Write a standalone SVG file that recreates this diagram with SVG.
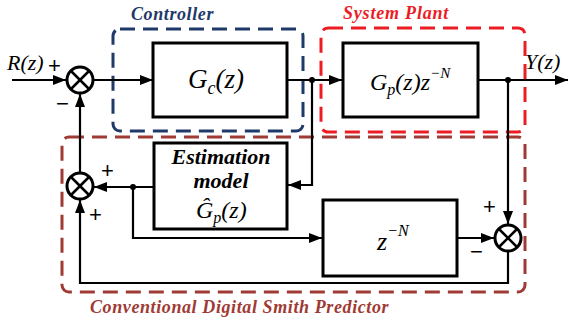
<svg xmlns="http://www.w3.org/2000/svg" width="569" height="320" viewBox="0 0 569 320">
<style>
.blk{fill:#fff;stroke:#000;stroke-width:3}
.sum{fill:#fff;stroke:#000;stroke-width:3}
.x{stroke:#000;stroke-width:2.5}
.ln{fill:none;stroke:#000;stroke-width:2.2}
.dash{fill:none;stroke-width:3;stroke-dasharray:15 8}
.sg{font-family:'Liberation Sans',Arial,sans-serif;font-size:22px}
.m{font-family:'Liberation Serif','DejaVu Serif',serif;font-style:italic}
.b{font-family:'Liberation Serif','DejaVu Serif',serif;font-style:italic;font-weight:bold}
</style>
<defs>
<marker id="ar" markerUnits="userSpaceOnUse" markerWidth="14" markerHeight="12" refX="13" refY="5" orient="auto">
<path d="M0,0 L13,5 L0,10 Z" fill="#000"/>
</marker>
</defs>
<rect x="0" y="0" width="569" height="320" fill="#fff"/>
<g id="groups">
<rect class="dash" x="113" y="29" width="190" height="102" rx="7" stroke="#1f3a68"/>
<rect class="dash" x="321" y="28" width="204" height="104" rx="7" stroke="#ec1c24"/>
<rect class="dash" x="62" y="137" width="463" height="155" rx="7" stroke="#a03a34"/>
<text class="b" x="131" y="20" font-size="18" fill="#1f3a68" letter-spacing="0.6">Controller</text>
<text class="b" x="343" y="19" font-size="18" fill="#ec1c24" letter-spacing="0.8">System Plant</text>
<text class="b" x="90" y="313" font-size="18" fill="#a03a34" letter-spacing="0.6">Conventional Digital Smith Predictor</text>
</g>
<g id="connectors">
<path class="ln" d="M12,80 H66" marker-end="url(#ar)"/>
<path class="ln" d="M94,80 H153" marker-end="url(#ar)"/>
<path class="ln" d="M287,80 H342" marker-end="url(#ar)"/>
<path class="ln" d="M478,80 H568" marker-end="url(#ar)"/>
<path class="ln" d="M312,80 V185 H288" marker-end="url(#ar)"/>
<path class="ln" d="M154,187 H94" marker-end="url(#ar)"/>
<path class="ln" d="M133,187 V238 H322" marker-end="url(#ar)"/>
<path class="ln" d="M457,238 H494" marker-end="url(#ar)"/>
<path class="ln" d="M508,80 V224" marker-end="url(#ar)"/>
<path class="ln" d="M508,251 V283 H80 V200" marker-end="url(#ar)"/>
<path class="ln" d="M80,173 V94" marker-end="url(#ar)"/>
<circle cx="312" cy="80" r="3" fill="#000"/>
<circle cx="508" cy="80" r="3" fill="#000"/>
<circle cx="133" cy="187" r="3" fill="#000"/>
</g>
<g id="input">
<text class="m" x="7" y="70" font-size="22">R(z)</text>
<text class="sg" x="48" y="73">+</text>
</g>
<g id="sum1">
<circle class="sum" cx="80" cy="80" r="13"/>
<path class="x" d="M71,71 L89,89 M89,71 L71,89"/>
<text class="sg" x="56" y="111">−</text>
</g>
<g id="sum2">
<circle class="sum" cx="80" cy="186" r="13"/>
<path class="x" d="M71,177 L89,195 M89,177 L71,195"/>
<text class="sg" x="101" y="178">+</text>
<text class="sg" x="89" y="222">+</text>
</g>
<g id="sum3">
<circle class="sum" cx="508" cy="238" r="13"/>
<path class="x" d="M499,229 L517,247 M517,229 L499,247"/>
<text class="sg" x="483" y="214">+</text>
<text class="sg" x="470" y="259">−</text>
</g>
<g id="controller">
<rect class="blk" x="153" y="43" width="134" height="74"/>
<text class="m" x="188" y="88" font-size="27">G<tspan font-size="18" dy="6">c</tspan><tspan dy="-6">(z)</tspan></text>
</g>
<g id="plant">
<rect class="blk" x="343" y="43" width="135" height="74"/>
<text class="m" x="370" y="90" font-size="24">G<tspan font-size="16" dy="5">p</tspan><tspan dy="-5">(z)z</tspan><tspan font-size="15" dy="-12">−N</tspan></text>
</g>
<g id="output">
<text class="m" x="525" y="69" font-size="22">Y(z)</text>
</g>
<g id="estimation">
<rect class="blk" x="154" y="143" width="133" height="86"/>
<text class="b" x="221" y="164" font-size="22" text-anchor="middle">Estimation</text>
<text class="b" x="221" y="188" font-size="22" text-anchor="middle">model</text>
<text class="m" x="196" y="218" font-size="24">Ĝ<tspan font-size="16" dy="5">p</tspan><tspan dy="-5">(z)</tspan></text>
</g>
<g id="delay">
<rect class="blk" x="323" y="200" width="134" height="76"/>
<text class="m" x="377" y="250" font-size="26">z<tspan font-size="16" dy="-14">−N</tspan></text>
</g>
</svg>
